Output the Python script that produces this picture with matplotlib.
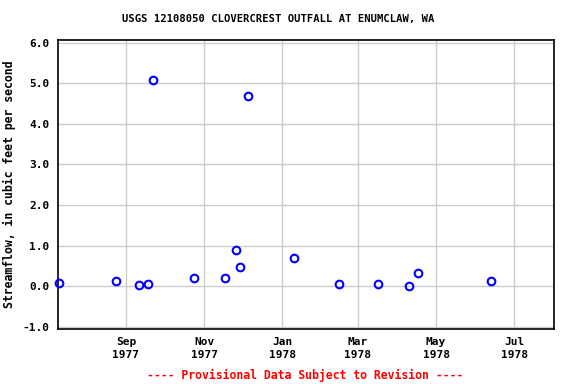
import datetime as dt
import matplotlib
matplotlib.use("Agg")
import matplotlib.pyplot as plt

# Sampled streamflow values
dates = [
    dt.date(1977, 7, 11), dt.date(1977, 8, 24), dt.date(1977, 9, 11),
    dt.date(1977, 9, 18), dt.date(1977, 9, 22), dt.date(1977, 10, 24),
    dt.date(1977, 11, 17), dt.date(1977, 11, 26), dt.date(1977, 11, 29),
    dt.date(1977, 12, 5), dt.date(1978, 1, 10), dt.date(1978, 2, 14),
    dt.date(1978, 3, 17), dt.date(1978, 4, 10), dt.date(1978, 4, 17),
    dt.date(1978, 6, 13),
]
flow = [0.07, 0.12, 0.02, 0.04, 5.08, 0.21, 0.19, 0.88, 0.46,
        4.69, 0.68, 0.04, 0.04, 0.01, 0.31, 0.12]

tick_dates = [dt.date(1977, 9, 1), dt.date(1977, 11, 1), dt.date(1978, 1, 1),
              dt.date(1978, 3, 1), dt.date(1978, 5, 1), dt.date(1978, 7, 1)]
tick_labels = ["Sep\n1977", "Nov\n1977", "Jan\n1978",
               "Mar\n1978", "May\n1978", "Jul\n1978"]
y_ticks = [-1.0, 0.0, 1.0, 2.0, 3.0, 4.0, 5.0, 6.0]

plt.rcParams["font.family"] = "DejaVu Sans Mono"
plt.rcParams["font.weight"] = "bold"

fig = plt.figure(figsize=(5.76, 3.84), dpi=100)
ax = fig.add_axes([58 / 576, 55 / 384, 496 / 576, 289 / 384])

ax.plot(dates, flow, linestyle="none", marker="o", markersize=5.5,
        markerfacecolor="none", markeredgecolor="#0000ff",
        markeredgewidth=1.5, clip_on=False, zorder=3)

ax.set_xlim(dt.date(1977, 7, 10), dt.date(1978, 8, 1))
ax.set_ylim(-1.06, 6.07)
ax.set_xticks(tick_dates)
ax.set_xticklabels(tick_labels, fontsize=8, fontweight="bold", linespacing=1.3)
ax.set_yticks(y_ticks)
ax.set_yticklabels(["%.1f" % v for v in y_ticks], fontsize=8, fontweight="bold")
ax.tick_params(length=0, pad=6)
ax.grid(True, color="#cccccc", linewidth=1)
ax.set_axisbelow(True)
for s in ax.spines.values():
    s.set_linewidth(1.2)

ax.set_ylabel("Streamflow, in cubic feet per second", fontsize=8.3,
              fontweight="bold", labelpad=5)
fig.text(278 / 576, 1 - 19 / 384, "USGS 12108050 CLOVERCREST OUTFALL AT ENUMCLAW, WA",
         ha="center", va="center", fontsize=7.6, fontweight="bold")
fig.text(305 / 576, 1 - 375 / 384, "---- Provisional Data Subject to Revision ----",
         ha="center", va="center", fontsize=8.3, fontweight="bold", color="red")

fig.savefig("out.png", dpi=100)
